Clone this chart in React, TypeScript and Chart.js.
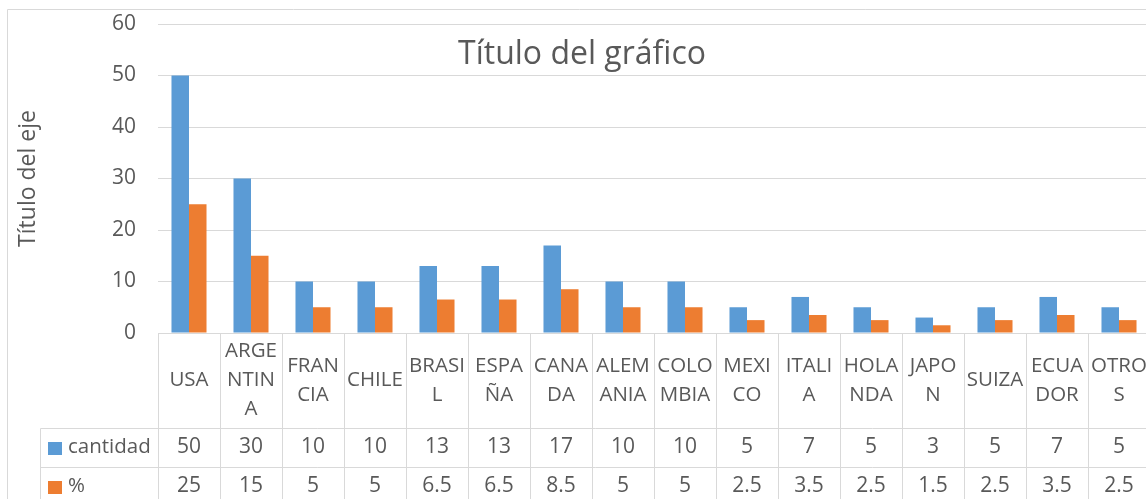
import React, { useEffect, useRef } from "react";
import { Chart, registerables } from "chart.js";

Chart.register(...registerables);

// ---- data ----
const categoryLines: string[][] = [
  ["USA"],
  ["ARGE", "NTIN", "A"],
  ["FRAN", "CIA"],
  ["CHILE"],
  ["BRASI", "L"],
  ["ESPA", "ÑA"],
  ["CANA", "DA"],
  ["ALEM", "ANIA"],
  ["COLO", "MBIA"],
  ["MEXI", "CO"],
  ["ITALI", "A"],
  ["HOLA", "NDA"],
  ["JAPO", "N"],
  ["SUIZA"],
  ["ECUA", "DOR"],
  ["OTRO", "S"],
];
const categories: string[] = categoryLines.map((l) => l.join(""));
const cantidad: number[] = [50, 30, 10, 10, 13, 13, 17, 10, 10, 5, 7, 5, 3, 5, 7, 5];
const porcentaje: number[] = [25, 15, 5, 5, 6.5, 6.5, 8.5, 5, 5, 2.5, 3.5, 2.5, 1.5, 2.5, 3.5, 2.5];
const seriesNames: string[] = ["cantidad", "%"];
const seriesColors: string[] = ["#5B9BD5", "#ED7D31"];
const yMin = 0;
const yMax = 60;
const yStep = 10;
const chartTitle = "Título del gráfico";
const axisTitle = "Título del eje";

const TEXT = "#595959";
const LINE = "#D9D9D9";
const FONT = "'Open Sans', sans-serif";

const tablePlugin = {
  id: "excelTable",
  beforeDraw(chart: any) {
    const ctx = chart.ctx;
    ctx.save();
    ctx.strokeStyle = LINE;
    ctx.lineWidth = 1;
    ctx.beginPath();
    ctx.moveTo(7.5, chart.height);
    ctx.lineTo(7.5, 9.5);
    ctx.lineTo(chart.width, 9.5);
    ctx.stroke();
    ctx.restore();
  },
  afterDraw(chart: any) {
    const ctx = chart.ctx;
    const area = chart.chartArea;
    const xs = chart.scales.x;
    const n = categories.length;
    const crisp = (v: number) => Math.round(v) + 0.5;

    const headerTop = area.bottom;
    const headerBottom = headerTop + 95;
    const row1Bottom = headerBottom + 39;
    const row2Bottom = row1Bottom + 39;
    const legendLeft = 40;

    const bounds: number[] = [];
    for (let i = 0; i <= n; i++) {
      if (i === 0) bounds.push(area.left);
      else if (i === n) bounds.push(area.right);
      else bounds.push((xs.getPixelForValue(i - 1) + xs.getPixelForValue(i)) / 2);
    }

    ctx.save();
    ctx.strokeStyle = LINE;
    ctx.lineWidth = 1;
    ctx.beginPath();
    bounds.forEach((b) => {
      ctx.moveTo(crisp(b), crisp(headerTop));
      ctx.lineTo(crisp(b), chart.height);
    });
    ctx.moveTo(crisp(legendLeft), crisp(headerBottom));
    ctx.lineTo(crisp(legendLeft), chart.height);
    [headerBottom, row1Bottom, row2Bottom].forEach((y) => {
      ctx.moveTo(crisp(legendLeft), crisp(y));
      ctx.lineTo(area.right, crisp(y));
    });
    ctx.stroke();

    ctx.fillStyle = TEXT;
    ctx.textAlign = "center";
    ctx.textBaseline = "middle";
    ctx.font = `20.5px ${FONT}`;
    const lh = 29;
    const hc = (headerTop + headerBottom) / 2;
    categoryLines.forEach((lines, i) => {
      const cx = xs.getPixelForValue(i);
      const y0 = hc - ((lines.length - 1) * lh) / 2;
      lines.forEach((t, k) => ctx.fillText(t, cx, y0 + k * lh));
    });

    ctx.font = `21px ${FONT}`;
    const rows = [cantidad, porcentaje];
    const rowCenters = [(headerBottom + row1Bottom) / 2, (row1Bottom + row2Bottom) / 2];
    rows.forEach((vals, r) => {
      vals.forEach((v, i) => {
        ctx.fillText(String(v), xs.getPixelForValue(i), rowCenters[r]);
      });
    });

    ctx.font = `20.5px ${FONT}`;
    ctx.textAlign = "left";
    seriesNames.forEach((name, r) => {
      const cy = rowCenters[r];
      ctx.fillStyle = seriesColors[r];
      ctx.fillRect(legendLeft + 8, Math.round(cy - 6), 14, 13);
      ctx.fillStyle = TEXT;
      ctx.fillText(name, legendLeft + 28, cy);
    });

    ctx.textAlign = "center";
    ctx.textBaseline = "alphabetic";
    ctx.font = `32px ${FONT}`;
    ctx.fillText(chartTitle, 582, 64);
    ctx.restore();
  },
};

export default function App() {
  const ref = useRef<HTMLCanvasElement | null>(null);

  useEffect(() => {
    if (!ref.current) return;
    const chart = new Chart(ref.current, {
      type: "bar",
      data: {
        labels: categories,
        datasets: [
          {
            label: seriesNames[0],
            data: cantidad,
            backgroundColor: seriesColors[0],
            categoryPercentage: 0.565,
            barPercentage: 1,
          },
          {
            label: seriesNames[1],
            data: porcentaje,
            backgroundColor: seriesColors[1],
            categoryPercentage: 0.565,
            barPercentage: 1,
          },
        ],
      },
      options: {
        responsive: false,
        animation: false,
        devicePixelRatio: 1,
        layout: { padding: { top: 24, left: 0, right: 2, bottom: 0 } },
        plugins: {
          legend: { display: false },
          title: { display: false },
          tooltip: { enabled: false },
        },
        scales: {
          x: {
            display: true,
            grid: { display: false },
            border: { display: false },
            ticks: { display: false },
            afterFit: (s: any) => {
              s.height = 166;
            },
          },
          y: {
            min: yMin,
            max: yMax,
            border: { display: false },
            grid: {
              color: LINE,
              lineWidth: 1,
              drawTicks: true,
              tickLength: 22,
              tickColor: "rgba(0,0,0,0)",
            },
            ticks: {
              stepSize: yStep,
              padding: 0,
              color: TEXT,
              font: { family: FONT, size: 21 },
            },
            title: {
              display: true,
              text: axisTitle,
              color: TEXT,
              font: { family: FONT, size: 23 },
              padding: { top: 15, bottom: 0 },
            },
            afterFit: (s: any) => {
              s.width = 158;
            },
          },
        },
      },
      plugins: [tablePlugin],
    });
    return () => chart.destroy();
  }, []);

  return (
    <div
      style={{
        position: "fixed",
        left: 0,
        top: 0,
        width: 1146,
        height: 499,
        overflow: "hidden",
        background: "#fff",
      }}
    >
      <canvas ref={ref} width={1152} height={499} style={{ display: "block" }} />
    </div>
  );
}
